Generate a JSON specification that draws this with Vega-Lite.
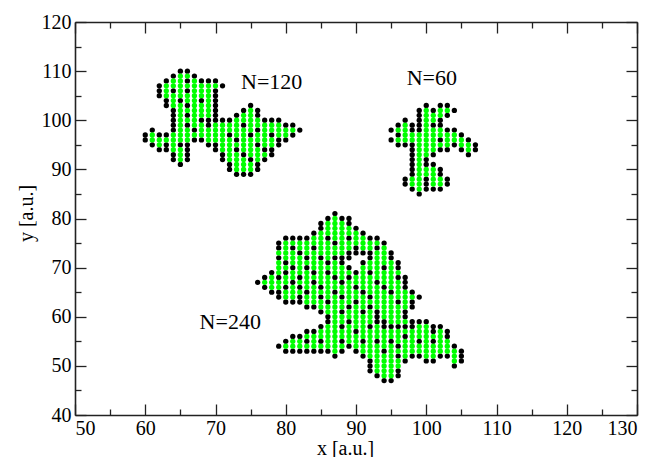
{
  "$schema": "https://vega.github.io/schema/vega-lite/v6.json",
  "width": 562,
  "height": 393,
  "autosize": {"type": "none"},
  "padding": {"left": 75, "top": 22, "right": 17, "bottom": 42},
  "background": "white",
  "config": {
    "view": {"stroke": null},
    "font": "Liberation Serif",
    "axis": {
      "domainColor": "#222",
      "domainWidth": 1.6,
      "tickColor": "#222",
      "tickWidth": 1.3,
      "grid": false,
      "labelFont": "Liberation Serif, Times New Roman, serif",
      "labelFontSize": 20,
      "labelColor": "black",
      "titleFont": "Liberation Serif, Times New Roman, serif",
      "titleFontSize": 20,
      "titleFontWeight": "normal",
      "titleColor": "black"
    }
  },
  "datasets": {
    "pts": [
{"x":60,"y":97,"c":"b"},{"x":60,"y":96,"c":"b"},
{"x":61,"y":98,"c":"b"},{"x":61,"y":97,"c":"g"},{"x":61,"y":96,"c":"g"},{"x":61,"y":95,"c":"b"},
{"x":62,"y":107,"c":"b"},{"x":62,"y":106,"c":"b"},{"x":62,"y":105,"c":"b"},{"x":62,"y":97,"c":"b"},{"x":62,"y":96,"c":"g"},{"x":62,"y":95,"c":"g"},{"x":62,"y":94,"c":"b"},
{"x":63,"y":108,"c":"b"},{"x":63,"y":107,"c":"g"},{"x":63,"y":106,"c":"g"},{"x":63,"y":105,"c":"g"},{"x":63,"y":104,"c":"b"},{"x":63,"y":103,"c":"b"},{"x":63,"y":97,"c":"b"},{"x":63,"y":96,"c":"g"},{"x":63,"y":95,"c":"b"},{"x":63,"y":94,"c":"b"},
{"x":64,"y":109,"c":"b"},{"x":64,"y":108,"c":"g"},{"x":64,"y":107,"c":"g"},{"x":64,"y":106,"c":"b"},{"x":64,"y":105,"c":"g"},{"x":64,"y":104,"c":"g"},{"x":64,"y":103,"c":"g"},{"x":64,"y":102,"c":"b"},{"x":64,"y":101,"c":"b"},{"x":64,"y":100,"c":"b"},{"x":64,"y":99,"c":"b"},{"x":64,"y":98,"c":"b"},{"x":64,"y":97,"c":"g"},{"x":64,"y":96,"c":"g"},{"x":64,"y":95,"c":"g"},{"x":64,"y":94,"c":"g"},{"x":64,"y":93,"c":"b"},{"x":64,"y":92,"c":"b"},
{"x":65,"y":110,"c":"b"},{"x":65,"y":109,"c":"g"},{"x":65,"y":108,"c":"g"},{"x":65,"y":107,"c":"g"},{"x":65,"y":106,"c":"g"},{"x":65,"y":105,"c":"g"},{"x":65,"y":104,"c":"b"},{"x":65,"y":103,"c":"g"},{"x":65,"y":102,"c":"g"},{"x":65,"y":101,"c":"g"},{"x":65,"y":100,"c":"g"},{"x":65,"y":99,"c":"g"},{"x":65,"y":98,"c":"g"},{"x":65,"y":97,"c":"g"},{"x":65,"y":96,"c":"g"},{"x":65,"y":95,"c":"b"},{"x":65,"y":94,"c":"g"},{"x":65,"y":93,"c":"g"},{"x":65,"y":92,"c":"g"},{"x":65,"y":91,"c":"b"},
{"x":66,"y":110,"c":"b"},{"x":66,"y":109,"c":"g"},{"x":66,"y":108,"c":"b"},{"x":66,"y":107,"c":"g"},{"x":66,"y":106,"c":"b"},{"x":66,"y":105,"c":"g"},{"x":66,"y":104,"c":"g"},{"x":66,"y":103,"c":"b"},{"x":66,"y":102,"c":"g"},{"x":66,"y":101,"c":"b"},{"x":66,"y":100,"c":"g"},{"x":66,"y":99,"c":"b"},{"x":66,"y":98,"c":"g"},{"x":66,"y":97,"c":"g"},{"x":66,"y":96,"c":"g"},{"x":66,"y":95,"c":"b"},{"x":66,"y":94,"c":"b"},{"x":66,"y":93,"c":"b"},{"x":66,"y":92,"c":"b"},
{"x":67,"y":109,"c":"b"},{"x":67,"y":108,"c":"g"},{"x":67,"y":107,"c":"g"},{"x":67,"y":106,"c":"g"},{"x":67,"y":105,"c":"g"},{"x":67,"y":104,"c":"g"},{"x":67,"y":103,"c":"g"},{"x":67,"y":102,"c":"g"},{"x":67,"y":101,"c":"g"},{"x":67,"y":100,"c":"g"},{"x":67,"y":99,"c":"g"},{"x":67,"y":98,"c":"b"},{"x":67,"y":97,"c":"g"},{"x":67,"y":96,"c":"b"},
{"x":68,"y":108,"c":"b"},{"x":68,"y":107,"c":"g"},{"x":68,"y":106,"c":"g"},{"x":68,"y":105,"c":"g"},{"x":68,"y":104,"c":"b"},{"x":68,"y":103,"c":"g"},{"x":68,"y":102,"c":"g"},{"x":68,"y":101,"c":"g"},{"x":68,"y":100,"c":"b"},{"x":68,"y":99,"c":"g"},{"x":68,"y":98,"c":"g"},{"x":68,"y":97,"c":"g"},{"x":68,"y":96,"c":"b"},
{"x":69,"y":108,"c":"b"},{"x":69,"y":107,"c":"g"},{"x":69,"y":106,"c":"g"},{"x":69,"y":105,"c":"g"},{"x":69,"y":104,"c":"g"},{"x":69,"y":103,"c":"g"},{"x":69,"y":102,"c":"g"},{"x":69,"y":101,"c":"g"},{"x":69,"y":100,"c":"b"},{"x":69,"y":99,"c":"b"},{"x":69,"y":98,"c":"g"},{"x":69,"y":97,"c":"g"},{"x":69,"y":96,"c":"g"},{"x":69,"y":95,"c":"b"},
{"x":70,"y":108,"c":"b"},{"x":70,"y":107,"c":"g"},{"x":70,"y":106,"c":"b"},{"x":70,"y":105,"c":"b"},{"x":70,"y":104,"c":"b"},{"x":70,"y":103,"c":"b"},{"x":70,"y":102,"c":"b"},{"x":70,"y":101,"c":"b"},{"x":70,"y":100,"c":"b"},{"x":70,"y":99,"c":"g"},{"x":70,"y":98,"c":"g"},{"x":70,"y":97,"c":"g"},{"x":70,"y":96,"c":"g"},{"x":70,"y":95,"c":"b"},{"x":70,"y":94,"c":"b"},
{"x":71,"y":107,"c":"b"},{"x":71,"y":100,"c":"b"},{"x":71,"y":99,"c":"g"},{"x":71,"y":98,"c":"g"},{"x":71,"y":97,"c":"g"},{"x":71,"y":96,"c":"g"},{"x":71,"y":95,"c":"g"},{"x":71,"y":94,"c":"g"},{"x":71,"y":93,"c":"b"},{"x":71,"y":92,"c":"b"},
{"x":72,"y":100,"c":"b"},{"x":72,"y":99,"c":"g"},{"x":72,"y":98,"c":"g"},{"x":72,"y":97,"c":"b"},{"x":72,"y":96,"c":"g"},{"x":72,"y":95,"c":"g"},{"x":72,"y":94,"c":"g"},{"x":72,"y":93,"c":"g"},{"x":72,"y":92,"c":"g"},{"x":72,"y":91,"c":"b"},{"x":72,"y":90,"c":"b"},
{"x":73,"y":101,"c":"b"},{"x":73,"y":100,"c":"g"},{"x":73,"y":99,"c":"g"},{"x":73,"y":98,"c":"g"},{"x":73,"y":97,"c":"g"},{"x":73,"y":96,"c":"b"},{"x":73,"y":95,"c":"g"},{"x":73,"y":94,"c":"b"},{"x":73,"y":93,"c":"g"},{"x":73,"y":92,"c":"g"},{"x":73,"y":91,"c":"g"},{"x":73,"y":90,"c":"g"},{"x":73,"y":89,"c":"b"},
{"x":74,"y":102,"c":"b"},{"x":74,"y":101,"c":"g"},{"x":74,"y":100,"c":"g"},{"x":74,"y":99,"c":"b"},{"x":74,"y":98,"c":"g"},{"x":74,"y":97,"c":"g"},{"x":74,"y":96,"c":"g"},{"x":74,"y":95,"c":"g"},{"x":74,"y":94,"c":"g"},{"x":74,"y":93,"c":"b"},{"x":74,"y":92,"c":"g"},{"x":74,"y":91,"c":"g"},{"x":74,"y":90,"c":"g"},{"x":74,"y":89,"c":"b"},
{"x":75,"y":103,"c":"b"},{"x":75,"y":102,"c":"g"},{"x":75,"y":101,"c":"g"},{"x":75,"y":100,"c":"g"},{"x":75,"y":99,"c":"g"},{"x":75,"y":98,"c":"g"},{"x":75,"y":97,"c":"b"},{"x":75,"y":96,"c":"g"},{"x":75,"y":95,"c":"g"},{"x":75,"y":94,"c":"g"},{"x":75,"y":93,"c":"g"},{"x":75,"y":92,"c":"b"},{"x":75,"y":91,"c":"g"},{"x":75,"y":90,"c":"g"},{"x":75,"y":89,"c":"b"},
{"x":76,"y":102,"c":"b"},{"x":76,"y":101,"c":"b"},{"x":76,"y":100,"c":"g"},{"x":76,"y":99,"c":"g"},{"x":76,"y":98,"c":"b"},{"x":76,"y":97,"c":"g"},{"x":76,"y":96,"c":"g"},{"x":76,"y":95,"c":"b"},{"x":76,"y":94,"c":"g"},{"x":76,"y":93,"c":"g"},{"x":76,"y":92,"c":"g"},{"x":76,"y":91,"c":"b"},{"x":76,"y":90,"c":"b"},
{"x":77,"y":100,"c":"b"},{"x":77,"y":99,"c":"g"},{"x":77,"y":98,"c":"g"},{"x":77,"y":97,"c":"g"},{"x":77,"y":96,"c":"g"},{"x":77,"y":95,"c":"g"},{"x":77,"y":94,"c":"b"},{"x":77,"y":93,"c":"g"},{"x":77,"y":92,"c":"b"},
{"x":78,"y":100,"c":"b"},{"x":78,"y":99,"c":"g"},{"x":78,"y":98,"c":"g"},{"x":78,"y":97,"c":"b"},{"x":78,"y":96,"c":"g"},{"x":78,"y":95,"c":"g"},{"x":78,"y":94,"c":"b"},{"x":78,"y":93,"c":"b"},
{"x":79,"y":100,"c":"b"},{"x":79,"y":99,"c":"g"},{"x":79,"y":98,"c":"g"},{"x":79,"y":97,"c":"g"},{"x":79,"y":96,"c":"b"},{"x":79,"y":95,"c":"b"},
{"x":80,"y":99,"c":"b"},{"x":80,"y":98,"c":"g"},{"x":80,"y":97,"c":"g"},{"x":80,"y":96,"c":"b"},
{"x":81,"y":99,"c":"b"},{"x":81,"y":98,"c":"g"},{"x":81,"y":97,"c":"b"},
{"x":82,"y":98,"c":"b"},

{"x":95,"y":98,"c":"b"},{"x":95,"y":96,"c":"b"},
{"x":96,"y":99,"c":"b"},{"x":96,"y":98,"c":"g"},{"x":96,"y":97,"c":"b"},{"x":96,"y":96,"c":"g"},{"x":96,"y":95,"c":"b"},
{"x":97,"y":100,"c":"b"},{"x":97,"y":99,"c":"g"},{"x":97,"y":98,"c":"g"},{"x":97,"y":97,"c":"g"},{"x":97,"y":96,"c":"g"},{"x":97,"y":95,"c":"b"},{"x":97,"y":88,"c":"b"},{"x":97,"y":87,"c":"b"},
{"x":98,"y":99,"c":"b"},{"x":98,"y":98,"c":"b"},{"x":98,"y":97,"c":"g"},{"x":98,"y":96,"c":"g"},{"x":98,"y":95,"c":"b"},{"x":98,"y":94,"c":"b"},{"x":98,"y":93,"c":"b"},{"x":98,"y":92,"c":"b"},{"x":98,"y":91,"c":"b"},{"x":98,"y":90,"c":"b"},{"x":98,"y":89,"c":"b"},{"x":98,"y":88,"c":"g"},{"x":98,"y":87,"c":"g"},{"x":98,"y":86,"c":"b"},
{"x":99,"y":102,"c":"b"},{"x":99,"y":101,"c":"b"},{"x":99,"y":100,"c":"b"},{"x":99,"y":99,"c":"b"},{"x":99,"y":98,"c":"b"},{"x":99,"y":97,"c":"g"},{"x":99,"y":96,"c":"g"},{"x":99,"y":95,"c":"g"},{"x":99,"y":94,"c":"g"},{"x":99,"y":93,"c":"g"},{"x":99,"y":92,"c":"g"},{"x":99,"y":91,"c":"g"},{"x":99,"y":90,"c":"g"},{"x":99,"y":89,"c":"g"},{"x":99,"y":88,"c":"g"},{"x":99,"y":87,"c":"g"},{"x":99,"y":86,"c":"g"},{"x":99,"y":85,"c":"b"},
{"x":100,"y":103,"c":"b"},{"x":100,"y":102,"c":"g"},{"x":100,"y":101,"c":"g"},{"x":100,"y":100,"c":"g"},{"x":100,"y":99,"c":"g"},{"x":100,"y":98,"c":"g"},{"x":100,"y":97,"c":"g"},{"x":100,"y":96,"c":"g"},{"x":100,"y":95,"c":"g"},{"x":100,"y":94,"c":"g"},{"x":100,"y":93,"c":"g"},{"x":100,"y":92,"c":"b"},{"x":100,"y":91,"c":"b"},{"x":100,"y":90,"c":"g"},{"x":100,"y":89,"c":"g"},{"x":100,"y":88,"c":"b"},{"x":100,"y":87,"c":"b"},{"x":100,"y":86,"c":"b"},
{"x":101,"y":102,"c":"b"},{"x":101,"y":101,"c":"g"},{"x":101,"y":100,"c":"g"},{"x":101,"y":99,"c":"b"},{"x":101,"y":98,"c":"g"},{"x":101,"y":97,"c":"g"},{"x":101,"y":96,"c":"g"},{"x":101,"y":95,"c":"g"},{"x":101,"y":94,"c":"g"},{"x":101,"y":93,"c":"b"},{"x":101,"y":91,"c":"b"},{"x":101,"y":90,"c":"g"},{"x":101,"y":89,"c":"g"},{"x":101,"y":88,"c":"g"},{"x":101,"y":87,"c":"g"},{"x":101,"y":86,"c":"b"},
{"x":102,"y":103,"c":"b"},{"x":102,"y":102,"c":"g"},{"x":102,"y":101,"c":"g"},{"x":102,"y":100,"c":"b"},{"x":102,"y":99,"c":"b"},{"x":102,"y":98,"c":"g"},{"x":102,"y":97,"c":"g"},{"x":102,"y":96,"c":"b"},{"x":102,"y":95,"c":"g"},{"x":102,"y":94,"c":"b"},{"x":102,"y":90,"c":"b"},{"x":102,"y":89,"c":"b"},{"x":102,"y":88,"c":"g"},{"x":102,"y":87,"c":"g"},{"x":102,"y":86,"c":"b"},
{"x":103,"y":103,"c":"b"},{"x":103,"y":102,"c":"g"},{"x":103,"y":101,"c":"b"},{"x":103,"y":98,"c":"b"},{"x":103,"y":97,"c":"g"},{"x":103,"y":96,"c":"g"},{"x":103,"y":95,"c":"g"},{"x":103,"y":94,"c":"b"},{"x":103,"y":88,"c":"b"},{"x":103,"y":87,"c":"b"},
{"x":104,"y":102,"c":"b"},{"x":104,"y":98,"c":"b"},{"x":104,"y":97,"c":"g"},{"x":104,"y":96,"c":"g"},{"x":104,"y":95,"c":"b"},
{"x":105,"y":97,"c":"b"},{"x":105,"y":96,"c":"g"},{"x":105,"y":95,"c":"g"},{"x":105,"y":94,"c":"b"},
{"x":106,"y":96,"c":"b"},{"x":106,"y":95,"c":"g"},{"x":106,"y":94,"c":"g"},{"x":106,"y":93,"c":"b"},
{"x":107,"y":95,"c":"b"},{"x":107,"y":94,"c":"b"},

{"x":76,"y":67,"c":"b"},
{"x":77,"y":68,"c":"b"},{"x":77,"y":67,"c":"g"},{"x":77,"y":66,"c":"b"},
{"x":78,"y":69,"c":"b"},{"x":78,"y":68,"c":"g"},{"x":78,"y":67,"c":"g"},{"x":78,"y":66,"c":"g"},{"x":78,"y":65,"c":"b"},
{"x":79,"y":75,"c":"b"},{"x":79,"y":74,"c":"b"},{"x":79,"y":73,"c":"g"},{"x":79,"y":72,"c":"b"},{"x":79,"y":71,"c":"g"},{"x":79,"y":70,"c":"g"},{"x":79,"y":69,"c":"g"},{"x":79,"y":68,"c":"b"},{"x":79,"y":67,"c":"g"},{"x":79,"y":66,"c":"g"},{"x":79,"y":65,"c":"b"},{"x":79,"y":64,"c":"b"},{"x":79,"y":54,"c":"b"},
{"x":80,"y":76,"c":"b"},{"x":80,"y":75,"c":"g"},{"x":80,"y":74,"c":"g"},{"x":80,"y":73,"c":"g"},{"x":80,"y":72,"c":"g"},{"x":80,"y":71,"c":"b"},{"x":80,"y":70,"c":"g"},{"x":80,"y":69,"c":"b"},{"x":80,"y":68,"c":"g"},{"x":80,"y":67,"c":"g"},{"x":80,"y":66,"c":"b"},{"x":80,"y":65,"c":"g"},{"x":80,"y":64,"c":"g"},{"x":80,"y":63,"c":"b"},{"x":80,"y":55,"c":"b"},{"x":80,"y":54,"c":"g"},{"x":80,"y":53,"c":"b"},
{"x":81,"y":76,"c":"b"},{"x":81,"y":75,"c":"g"},{"x":81,"y":74,"c":"b"},{"x":81,"y":73,"c":"g"},{"x":81,"y":72,"c":"g"},{"x":81,"y":71,"c":"g"},{"x":81,"y":70,"c":"b"},{"x":81,"y":69,"c":"g"},{"x":81,"y":68,"c":"g"},{"x":81,"y":67,"c":"b"},{"x":81,"y":66,"c":"g"},{"x":81,"y":65,"c":"g"},{"x":81,"y":64,"c":"g"},{"x":81,"y":63,"c":"b"},{"x":81,"y":56,"c":"b"},{"x":81,"y":55,"c":"g"},{"x":81,"y":54,"c":"g"},{"x":81,"y":53,"c":"b"},
{"x":82,"y":76,"c":"b"},{"x":82,"y":75,"c":"g"},{"x":82,"y":74,"c":"g"},{"x":82,"y":73,"c":"b"},{"x":82,"y":72,"c":"g"},{"x":82,"y":71,"c":"g"},{"x":82,"y":70,"c":"g"},{"x":82,"y":69,"c":"g"},{"x":82,"y":68,"c":"b"},{"x":82,"y":67,"c":"g"},{"x":82,"y":66,"c":"b"},{"x":82,"y":65,"c":"g"},{"x":82,"y":64,"c":"b"},{"x":82,"y":63,"c":"b"},{"x":82,"y":56,"c":"b"},{"x":82,"y":55,"c":"g"},{"x":82,"y":54,"c":"g"},{"x":82,"y":53,"c":"b"},
{"x":83,"y":76,"c":"b"},{"x":83,"y":75,"c":"g"},{"x":83,"y":74,"c":"g"},{"x":83,"y":73,"c":"g"},{"x":83,"y":72,"c":"b"},{"x":83,"y":71,"c":"g"},{"x":83,"y":70,"c":"b"},{"x":83,"y":69,"c":"g"},{"x":83,"y":68,"c":"g"},{"x":83,"y":67,"c":"g"},{"x":83,"y":66,"c":"g"},{"x":83,"y":65,"c":"b"},{"x":83,"y":64,"c":"g"},{"x":83,"y":63,"c":"g"},{"x":83,"y":62,"c":"b"},{"x":83,"y":57,"c":"b"},{"x":83,"y":56,"c":"g"},{"x":83,"y":55,"c":"b"},{"x":83,"y":54,"c":"g"},{"x":83,"y":53,"c":"b"},
{"x":84,"y":77,"c":"b"},{"x":84,"y":76,"c":"g"},{"x":84,"y":75,"c":"g"},{"x":84,"y":74,"c":"b"},{"x":84,"y":73,"c":"g"},{"x":84,"y":72,"c":"g"},{"x":84,"y":71,"c":"g"},{"x":84,"y":70,"c":"g"},{"x":84,"y":69,"c":"b"},{"x":84,"y":68,"c":"g"},{"x":84,"y":67,"c":"b"},{"x":84,"y":66,"c":"g"},{"x":84,"y":65,"c":"g"},{"x":84,"y":64,"c":"g"},{"x":84,"y":63,"c":"g"},{"x":84,"y":62,"c":"b"},{"x":84,"y":57,"c":"b"},{"x":84,"y":56,"c":"g"},{"x":84,"y":55,"c":"g"},{"x":84,"y":54,"c":"g"},{"x":84,"y":53,"c":"b"},
{"x":85,"y":79,"c":"b"},{"x":85,"y":78,"c":"b"},{"x":85,"y":77,"c":"g"},{"x":85,"y":76,"c":"g"},{"x":85,"y":75,"c":"g"},{"x":85,"y":74,"c":"g"},{"x":85,"y":73,"c":"g"},{"x":85,"y":72,"c":"b"},{"x":85,"y":71,"c":"g"},{"x":85,"y":70,"c":"g"},{"x":85,"y":69,"c":"g"},{"x":85,"y":68,"c":"g"},{"x":85,"y":67,"c":"g"},{"x":85,"y":66,"c":"b"},{"x":85,"y":65,"c":"g"},{"x":85,"y":64,"c":"b"},{"x":85,"y":63,"c":"g"},{"x":85,"y":62,"c":"g"},{"x":85,"y":61,"c":"b"},{"x":85,"y":58,"c":"b"},{"x":85,"y":57,"c":"g"},{"x":85,"y":56,"c":"g"},{"x":85,"y":55,"c":"b"},{"x":85,"y":54,"c":"g"},{"x":85,"y":53,"c":"b"},
{"x":86,"y":80,"c":"b"},{"x":86,"y":79,"c":"g"},{"x":86,"y":78,"c":"g"},{"x":86,"y":77,"c":"g"},{"x":86,"y":76,"c":"b"},{"x":86,"y":75,"c":"g"},{"x":86,"y":74,"c":"g"},{"x":86,"y":73,"c":"g"},{"x":86,"y":72,"c":"g"},{"x":86,"y":71,"c":"b"},{"x":86,"y":70,"c":"g"},{"x":86,"y":69,"c":"b"},{"x":86,"y":68,"c":"g"},{"x":86,"y":67,"c":"g"},{"x":86,"y":66,"c":"g"},{"x":86,"y":65,"c":"g"},{"x":86,"y":64,"c":"g"},{"x":86,"y":63,"c":"b"},{"x":86,"y":62,"c":"g"},{"x":86,"y":61,"c":"g"},{"x":86,"y":60,"c":"b"},{"x":86,"y":59,"c":"b"},{"x":86,"y":58,"c":"g"},{"x":86,"y":57,"c":"g"},{"x":86,"y":56,"c":"g"},{"x":86,"y":55,"c":"g"},{"x":86,"y":54,"c":"g"},{"x":86,"y":53,"c":"b"},
{"x":87,"y":81,"c":"b"},{"x":87,"y":80,"c":"g"},{"x":87,"y":79,"c":"g"},{"x":87,"y":78,"c":"g"},{"x":87,"y":77,"c":"g"},{"x":87,"y":76,"c":"g"},{"x":87,"y":75,"c":"b"},{"x":87,"y":74,"c":"g"},{"x":87,"y":73,"c":"g"},{"x":87,"y":72,"c":"b"},{"x":87,"y":71,"c":"g"},{"x":87,"y":70,"c":"g"},{"x":87,"y":69,"c":"g"},{"x":87,"y":68,"c":"b"},{"x":87,"y":67,"c":"g"},{"x":87,"y":66,"c":"g"},{"x":87,"y":65,"c":"b"},{"x":87,"y":64,"c":"g"},{"x":87,"y":63,"c":"g"},{"x":87,"y":62,"c":"g"},{"x":87,"y":61,"c":"g"},{"x":87,"y":60,"c":"g"},{"x":87,"y":59,"c":"g"},{"x":87,"y":58,"c":"g"},{"x":87,"y":57,"c":"g"},{"x":87,"y":56,"c":"g"},{"x":87,"y":55,"c":"g"},{"x":87,"y":54,"c":"g"},{"x":87,"y":53,"c":"g"},{"x":87,"y":52,"c":"b"},
{"x":88,"y":80,"c":"b"},{"x":88,"y":79,"c":"g"},{"x":88,"y":78,"c":"g"},{"x":88,"y":77,"c":"g"},{"x":88,"y":76,"c":"g"},{"x":88,"y":75,"c":"g"},{"x":88,"y":74,"c":"g"},{"x":88,"y":73,"c":"g"},{"x":88,"y":72,"c":"b"},{"x":88,"y":71,"c":"b"},{"x":88,"y":70,"c":"g"},{"x":88,"y":69,"c":"g"},{"x":88,"y":68,"c":"g"},{"x":88,"y":67,"c":"b"},{"x":88,"y":66,"c":"g"},{"x":88,"y":65,"c":"g"},{"x":88,"y":64,"c":"b"},{"x":88,"y":63,"c":"g"},{"x":88,"y":62,"c":"g"},{"x":88,"y":61,"c":"b"},{"x":88,"y":60,"c":"g"},{"x":88,"y":59,"c":"g"},{"x":88,"y":58,"c":"b"},{"x":88,"y":57,"c":"g"},{"x":88,"y":56,"c":"g"},{"x":88,"y":55,"c":"b"},{"x":88,"y":54,"c":"g"},{"x":88,"y":53,"c":"b"},
{"x":89,"y":80,"c":"b"},{"x":89,"y":79,"c":"b"},{"x":89,"y":78,"c":"g"},{"x":89,"y":77,"c":"g"},{"x":89,"y":76,"c":"b"},{"x":89,"y":75,"c":"g"},{"x":89,"y":74,"c":"g"},{"x":89,"y":73,"c":"b"},{"x":89,"y":72,"c":"b"},{"x":89,"y":70,"c":"b"},{"x":89,"y":69,"c":"g"},{"x":89,"y":68,"c":"b"},{"x":89,"y":67,"c":"g"},{"x":89,"y":66,"c":"g"},{"x":89,"y":65,"c":"g"},{"x":89,"y":64,"c":"g"},{"x":89,"y":63,"c":"g"},{"x":89,"y":62,"c":"b"},{"x":89,"y":61,"c":"g"},{"x":89,"y":60,"c":"g"},{"x":89,"y":59,"c":"b"},{"x":89,"y":58,"c":"g"},{"x":89,"y":57,"c":"g"},{"x":89,"y":56,"c":"g"},{"x":89,"y":55,"c":"g"},{"x":89,"y":54,"c":"b"},
{"x":90,"y":78,"c":"b"},{"x":90,"y":77,"c":"g"},{"x":90,"y":76,"c":"g"},{"x":90,"y":75,"c":"g"},{"x":90,"y":74,"c":"b"},{"x":90,"y":73,"c":"b"},{"x":90,"y":69,"c":"b"},{"x":90,"y":68,"c":"g"},{"x":90,"y":67,"c":"g"},{"x":90,"y":66,"c":"b"},{"x":90,"y":65,"c":"g"},{"x":90,"y":64,"c":"g"},{"x":90,"y":63,"c":"b"},{"x":90,"y":62,"c":"g"},{"x":90,"y":61,"c":"g"},{"x":90,"y":60,"c":"g"},{"x":90,"y":59,"c":"g"},{"x":90,"y":58,"c":"g"},{"x":90,"y":57,"c":"b"},{"x":90,"y":56,"c":"g"},{"x":90,"y":55,"c":"g"},{"x":90,"y":54,"c":"g"},{"x":90,"y":53,"c":"b"},
{"x":91,"y":77,"c":"b"},{"x":91,"y":76,"c":"g"},{"x":91,"y":75,"c":"g"},{"x":91,"y":74,"c":"g"},{"x":91,"y":73,"c":"b"},{"x":91,"y":71,"c":"b"},{"x":91,"y":70,"c":"g"},{"x":91,"y":69,"c":"g"},{"x":91,"y":68,"c":"g"},{"x":91,"y":67,"c":"g"},{"x":91,"y":66,"c":"g"},{"x":91,"y":65,"c":"b"},{"x":91,"y":64,"c":"g"},{"x":91,"y":63,"c":"g"},{"x":91,"y":62,"c":"g"},{"x":91,"y":61,"c":"b"},{"x":91,"y":60,"c":"g"},{"x":91,"y":59,"c":"g"},{"x":91,"y":58,"c":"g"},{"x":91,"y":57,"c":"g"},{"x":91,"y":56,"c":"g"},{"x":91,"y":55,"c":"b"},{"x":91,"y":54,"c":"g"},{"x":91,"y":53,"c":"g"},{"x":91,"y":52,"c":"b"},
{"x":92,"y":76,"c":"b"},{"x":92,"y":75,"c":"g"},{"x":92,"y":74,"c":"g"},{"x":92,"y":73,"c":"b"},{"x":92,"y":72,"c":"b"},{"x":92,"y":71,"c":"g"},{"x":92,"y":70,"c":"g"},{"x":92,"y":69,"c":"b"},{"x":92,"y":68,"c":"g"},{"x":92,"y":67,"c":"g"},{"x":92,"y":66,"c":"g"},{"x":92,"y":65,"c":"g"},{"x":92,"y":64,"c":"b"},{"x":92,"y":63,"c":"g"},{"x":92,"y":62,"c":"b"},{"x":92,"y":61,"c":"g"},{"x":92,"y":60,"c":"g"},{"x":92,"y":59,"c":"g"},{"x":92,"y":58,"c":"b"},{"x":92,"y":57,"c":"g"},{"x":92,"y":56,"c":"g"},{"x":92,"y":55,"c":"g"},{"x":92,"y":54,"c":"g"},{"x":92,"y":53,"c":"g"},{"x":92,"y":52,"c":"g"},{"x":92,"y":51,"c":"b"},{"x":92,"y":50,"c":"b"},{"x":92,"y":49,"c":"b"},
{"x":93,"y":76,"c":"b"},{"x":93,"y":75,"c":"g"},{"x":93,"y":74,"c":"b"},{"x":93,"y":73,"c":"g"},{"x":93,"y":72,"c":"g"},{"x":93,"y":71,"c":"g"},{"x":93,"y":70,"c":"g"},{"x":93,"y":69,"c":"g"},{"x":93,"y":68,"c":"g"},{"x":93,"y":67,"c":"b"},{"x":93,"y":66,"c":"g"},{"x":93,"y":65,"c":"g"},{"x":93,"y":64,"c":"g"},{"x":93,"y":63,"c":"g"},{"x":93,"y":62,"c":"g"},{"x":93,"y":61,"c":"b"},{"x":93,"y":60,"c":"b"},{"x":93,"y":59,"c":"b"},{"x":93,"y":58,"c":"g"},{"x":93,"y":57,"c":"g"},{"x":93,"y":56,"c":"g"},{"x":93,"y":55,"c":"b"},{"x":93,"y":54,"c":"g"},{"x":93,"y":53,"c":"g"},{"x":93,"y":52,"c":"g"},{"x":93,"y":51,"c":"g"},{"x":93,"y":50,"c":"g"},{"x":93,"y":49,"c":"g"},{"x":93,"y":48,"c":"b"},
{"x":94,"y":75,"c":"b"},{"x":94,"y":74,"c":"g"},{"x":94,"y":73,"c":"g"},{"x":94,"y":72,"c":"g"},{"x":94,"y":71,"c":"g"},{"x":94,"y":70,"c":"b"},{"x":94,"y":69,"c":"g"},{"x":94,"y":68,"c":"g"},{"x":94,"y":67,"c":"g"},{"x":94,"y":66,"c":"b"},{"x":94,"y":65,"c":"g"},{"x":94,"y":64,"c":"g"},{"x":94,"y":63,"c":"g"},{"x":94,"y":62,"c":"g"},{"x":94,"y":61,"c":"g"},{"x":94,"y":60,"c":"g"},{"x":94,"y":59,"c":"b"},{"x":94,"y":58,"c":"b"},{"x":94,"y":57,"c":"g"},{"x":94,"y":56,"c":"g"},{"x":94,"y":55,"c":"g"},{"x":94,"y":54,"c":"g"},{"x":94,"y":53,"c":"b"},{"x":94,"y":52,"c":"g"},{"x":94,"y":51,"c":"g"},{"x":94,"y":50,"c":"g"},{"x":94,"y":49,"c":"g"},{"x":94,"y":48,"c":"g"},{"x":94,"y":47,"c":"b"},
{"x":95,"y":73,"c":"b"},{"x":95,"y":72,"c":"b"},{"x":95,"y":71,"c":"g"},{"x":95,"y":70,"c":"g"},{"x":95,"y":69,"c":"g"},{"x":95,"y":68,"c":"g"},{"x":95,"y":67,"c":"g"},{"x":95,"y":66,"c":"g"},{"x":95,"y":65,"c":"b"},{"x":95,"y":64,"c":"g"},{"x":95,"y":63,"c":"g"},{"x":95,"y":62,"c":"g"},{"x":95,"y":61,"c":"g"},{"x":95,"y":60,"c":"g"},{"x":95,"y":59,"c":"g"},{"x":95,"y":58,"c":"b"},{"x":95,"y":57,"c":"g"},{"x":95,"y":56,"c":"g"},{"x":95,"y":55,"c":"b"},{"x":95,"y":54,"c":"g"},{"x":95,"y":53,"c":"g"},{"x":95,"y":52,"c":"g"},{"x":95,"y":51,"c":"g"},{"x":95,"y":50,"c":"g"},{"x":95,"y":49,"c":"g"},{"x":95,"y":48,"c":"g"},{"x":95,"y":47,"c":"b"},
{"x":96,"y":71,"c":"b"},{"x":96,"y":70,"c":"b"},{"x":96,"y":69,"c":"g"},{"x":96,"y":68,"c":"b"},{"x":96,"y":67,"c":"g"},{"x":96,"y":66,"c":"g"},{"x":96,"y":65,"c":"g"},{"x":96,"y":64,"c":"g"},{"x":96,"y":63,"c":"b"},{"x":96,"y":62,"c":"g"},{"x":96,"y":61,"c":"g"},{"x":96,"y":60,"c":"g"},{"x":96,"y":59,"c":"g"},{"x":96,"y":58,"c":"b"},{"x":96,"y":57,"c":"g"},{"x":96,"y":56,"c":"g"},{"x":96,"y":55,"c":"g"},{"x":96,"y":54,"c":"b"},{"x":96,"y":53,"c":"g"},{"x":96,"y":52,"c":"b"},{"x":96,"y":51,"c":"g"},{"x":96,"y":50,"c":"g"},{"x":96,"y":49,"c":"b"},{"x":96,"y":48,"c":"b"},
{"x":97,"y":68,"c":"b"},{"x":97,"y":67,"c":"b"},{"x":97,"y":66,"c":"b"},{"x":97,"y":65,"c":"g"},{"x":97,"y":64,"c":"g"},{"x":97,"y":63,"c":"g"},{"x":97,"y":62,"c":"g"},{"x":97,"y":61,"c":"b"},{"x":97,"y":60,"c":"b"},{"x":97,"y":59,"c":"g"},{"x":97,"y":58,"c":"b"},{"x":97,"y":57,"c":"g"},{"x":97,"y":56,"c":"b"},{"x":97,"y":55,"c":"g"},{"x":97,"y":54,"c":"g"},{"x":97,"y":53,"c":"g"},{"x":97,"y":52,"c":"g"},{"x":97,"y":51,"c":"b"},
{"x":98,"y":65,"c":"b"},{"x":98,"y":64,"c":"g"},{"x":98,"y":63,"c":"b"},{"x":98,"y":62,"c":"b"},{"x":98,"y":59,"c":"b"},{"x":98,"y":58,"c":"b"},{"x":98,"y":57,"c":"g"},{"x":98,"y":56,"c":"g"},{"x":98,"y":55,"c":"g"},{"x":98,"y":54,"c":"g"},{"x":98,"y":53,"c":"g"},{"x":98,"y":52,"c":"b"},
{"x":99,"y":64,"c":"b"},{"x":99,"y":59,"c":"b"},{"x":99,"y":58,"c":"g"},{"x":99,"y":57,"c":"g"},{"x":99,"y":56,"c":"g"},{"x":99,"y":55,"c":"b"},{"x":99,"y":54,"c":"g"},{"x":99,"y":53,"c":"g"},{"x":99,"y":52,"c":"b"},
{"x":100,"y":59,"c":"b"},{"x":100,"y":58,"c":"g"},{"x":100,"y":57,"c":"g"},{"x":100,"y":56,"c":"g"},{"x":100,"y":55,"c":"g"},{"x":100,"y":54,"c":"g"},{"x":100,"y":53,"c":"g"},{"x":100,"y":52,"c":"g"},{"x":100,"y":51,"c":"b"},
{"x":101,"y":58,"c":"b"},{"x":101,"y":57,"c":"b"},{"x":101,"y":56,"c":"g"},{"x":101,"y":55,"c":"b"},{"x":101,"y":54,"c":"g"},{"x":101,"y":53,"c":"g"},{"x":101,"y":52,"c":"g"},{"x":101,"y":51,"c":"b"},
{"x":102,"y":58,"c":"b"},{"x":102,"y":57,"c":"g"},{"x":102,"y":56,"c":"g"},{"x":102,"y":55,"c":"g"},{"x":102,"y":54,"c":"g"},{"x":102,"y":53,"c":"g"},{"x":102,"y":52,"c":"b"},
{"x":103,"y":57,"c":"b"},{"x":103,"y":56,"c":"b"},{"x":103,"y":55,"c":"g"},{"x":103,"y":54,"c":"g"},{"x":103,"y":53,"c":"g"},{"x":103,"y":52,"c":"b"},
{"x":104,"y":54,"c":"b"},{"x":104,"y":53,"c":"g"},{"x":104,"y":52,"c":"g"},{"x":104,"y":51,"c":"g"},{"x":104,"y":50,"c":"b"},
{"x":105,"y":53,"c":"b"},{"x":105,"y":52,"c":"b"},{"x":105,"y":51,"c":"b"}
    ],
    "labels": [
      {"x": 78.0, "y": 107.8, "t": "N=120"},
      {"x": 100.8, "y": 108.6, "t": "N=60"},
      {"x": 72.1, "y": 58.9, "t": "N=240"}
    ]
  },
  "resolve": {"axis": {"x": "independent", "y": "independent"}},
  "layer": [
    {
      "data": {"name": "pts"},
      "transform": [{"filter": "datum.c === 'b'"}],
      "mark": {"type": "circle", "size": 28, "opacity": 1, "color": "black"},
      "encoding": {
        "x": {"field": "x", "type": "quantitative", "scale": {"domain": [50, 130], "nice": false, "zero": false},
          "axis": {"orient": "bottom", "title": "x [a.u.]", "values": [50,55,60,65,70,75,80,85,90,95,100,105,110,115,120,125,130],
            "labelExpr": "datum.value % 10 === 0 ? datum.label : ''",
            "labelFont": "Liberation Serif, Times New Roman, serif", "labelFontSize": 20,
            "tickSize": {"condition": {"test": "datum.value % 10 === 0", "value": -11}, "value": -6},
            "labelPadding": 14, "titleX": 270, "titleY": 39, "titleBaseline": "alphabetic", "titleFont": "Liberation Serif, Times New Roman, serif"}},
        "y": {"field": "y", "type": "quantitative", "scale": {"domain": [40, 120], "nice": false, "zero": false},
          "axis": {"orient": "left", "title": "y [a.u.]", "values": [40,45,50,55,60,65,70,75,80,85,90,95,100,105,110,115,120],
            "labelExpr": "datum.value % 10 === 0 ? datum.label : ''",
            "labelFont": "Liberation Serif, Times New Roman, serif", "labelFontSize": 20,
            "tickSize": {"condition": {"test": "datum.value % 10 === 0", "value": -11}, "value": -6},
            "labelPadding": 15, "titleX": -49, "titleY": 191, "titleAngle": -90, "titleAlign": "center", "titleBaseline": "middle", "titleFont": "Liberation Serif, Times New Roman, serif"}}
      }
    },
    {
      "data": {"name": "pts"},
      "transform": [{"filter": "datum.c === 'g'"}],
      "mark": {"type": "circle", "size": 28, "opacity": 1, "color": "#00ff00"},
      "encoding": {
        "x": {"field": "x", "type": "quantitative",
          "axis": {"orient": "top", "title": null, "labels": false, "values": [50,55,60,65,70,75,80,85,90,95,100,105,110,115,120,125,130],
            "tickSize": {"condition": {"test": "datum.value % 10 === 0", "value": -11}, "value": -6}}},
        "y": {"field": "y", "type": "quantitative",
          "axis": {"orient": "right", "title": null, "labels": false, "values": [40,45,50,55,60,65,70,75,80,85,90,95,100,105,110,115,120],
            "tickSize": {"condition": {"test": "datum.value % 10 === 0", "value": -11}, "value": -6}}}
      }
    },
    {
      "data": {"name": "labels"},
      "mark": {"type": "text", "font": "Liberation Serif", "fontSize": 22, "color": "black"},
      "encoding": {
        "x": {"field": "x", "type": "quantitative", "axis": null},
        "y": {"field": "y", "type": "quantitative", "axis": null},
        "text": {"field": "t"}
      }
    }
  ]
}
